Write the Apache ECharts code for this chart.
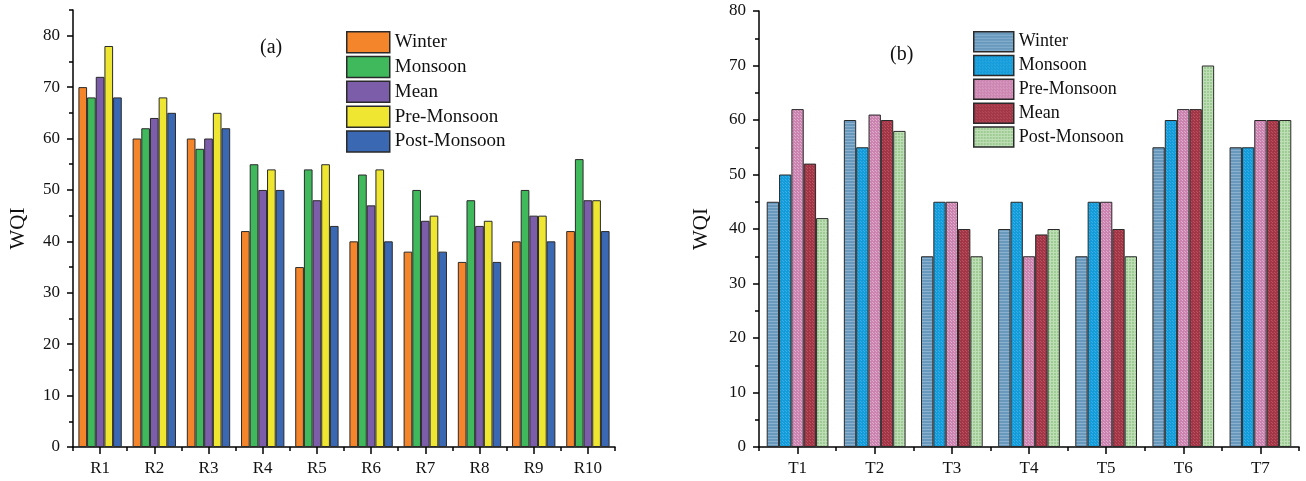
<!DOCTYPE html>
<html>
<head>
<meta charset="utf-8">
<script src="https://cdn.jsdelivr.net/npm/echarts@6/dist/echarts.min.js"></script>
<style>
html,body{margin:0;padding:0;background:#fff;}
#c{width:1306px;height:481px;}
</style>
</head>
<body>
<div id="c"></div>
<script>
// ---- Data: chart (a)
const catsA = ['R1','R2','R3','R4','R5','R6','R7','R8','R9','R10'];
const namesA = ['Winter','Monsoon','Mean','Pre-Monsoon','Post-Monsoon'];
const winterA  = [70,60,60,42,35,40,38,36,40,42];
const monsoonA = [68,62,58,55,54,53,50,48,50,56];
const meanA    = [72,64,60,50,48,47,44,43,45,48];
const preA     = [78,68,65,54,55,54,45,44,45,48];
const postA    = [68,65,62,50,43,40,38,36,40,42];
const yTicksA  = [0,10,20,30,40,50,60,70,80];

// ---- Data: chart (b)
const catsB = ['T1','T2','T3','T4','T5','T6','T7'];
const namesB = ['Winter','Monsoon','Pre-Monsoon','Mean','Post-Monsoon'];
const winterB  = [45,60,35,40,35,55,55];
const monsoonB = [50,55,45,45,45,60,55];
const preB     = [62,61,45,35,45,62,60];
const meanB    = [52,60,40,39,40,62,60];
const postB    = [42,58,35,40,35,70,60];
const yTicksB  = [0,10,20,30,40,50,60,70,80];

const FONT = '"Liberation Serif", "DejaVu Serif", serif';

function pattern(base, light, mode) {
  const c = document.createElement('canvas');
  c.width = 3; c.height = 3;
  const g = c.getContext('2d');
  g.fillStyle = base; g.fillRect(0,0,3,3);
  g.fillStyle = light;
  if (mode === 'h') { g.fillRect(0,0,3,1); }
  else if (mode === 'grid') { g.fillRect(0,0,3,1); g.fillRect(0,0,1,3); }
  else { g.fillRect(0,0,1,1); g.fillRect(2,2,1,1); }
  return { image: c, repeat: 'repeat' };
}

const colorsA = ['#F5852B','#3FB95C','#7C5DA9','#EEE630','#3B68B3'];
const colorsB = [
  pattern('#6898BC','#8AB2D0','h'),
  pattern('#149CDA','#3AB0E6','dot'),
  pattern('#CB84B0','#E2AECD','dot'),
  pattern('#A23646','#B85462','dot'),
  pattern('#9ECB93','#BEDEB5','grid')
];
const dataA = [winterA, monsoonA, meanA, preA, postA];
const dataB = [winterB, monsoonB, preB, meanB, postB];
const SUF = '\u00b7b';

const series = [];
namesA.forEach((n,i) => series.push({
  type:'bar', name:n, xAxisIndex:0, yAxisIndex:0, data:dataA[i],
  barGap:'0%', barCategoryGap:'20%',
  itemStyle:{color:colorsA[i], borderColor:'#2a2a2a', borderWidth:1}
}));
namesB.forEach((n,i) => series.push({
  type:'bar', name:n + SUF, xAxisIndex:2, yAxisIndex:2, data:dataB[i],
  barGap:'0%', barCategoryGap:'20%',
  itemStyle:{color:colorsB[i], borderColor:'#2a2a2a', borderWidth:1}
}));

const axLine = {show:true, lineStyle:{color:'#000', width:1.5}};
const lbl = {color:'#111', fontSize:17, fontFamily:FONT};

function xMain(cats, grid){ return {
  type:'category', gridIndex:grid, data:cats, position:'bottom',
  axisLine:axLine, axisTick:{show:true, alignWithLabel:true, length:7, lineStyle:{color:'#000', width:1.5}},
  axisLabel:Object.assign({margin:13}, lbl), splitLine:{show:false}
};}
function xMinor(cats, grid){ return {
  type:'category', gridIndex:grid, data:cats, position:'bottom', offset:0,
  axisLine:{show:false}, axisTick:{show:true, length:4, lineStyle:{color:'#000', width:1.5}},
  axisLabel:{show:false}, splitLine:{show:false}
};}
function yMain(grid, max, ticks, gap){ return {
  type:'value', gridIndex:grid, min:0, max:max, interval:10, position:'left',
  name:'WQI', nameLocation:'middle', nameGap:gap,
  nameTextStyle:{fontSize:21, fontFamily:FONT, color:'#111'},
  axisLine:axLine,
  axisTick:{show:true, length:6, customValues:ticks, lineStyle:{color:'#000', width:1.5}},
  axisLabel:Object.assign({margin:13, customValues:ticks}, lbl),
  splitLine:{show:false}
};}
function yMinor(grid, max){ return {
  type:'value', gridIndex:grid, min:0, max:max, interval:5, position:'left', offset:0,
  axisLine:{show:false}, axisTick:{show:true, length:4, lineStyle:{color:'#000', width:1.5}},
  axisLabel:{show:false}, splitLine:{show:false}
};}

const chart = echarts.init(document.getElementById('c'), null, {renderer:'canvas'});
chart.setOption({
  animation:false,
  backgroundColor:'#fff',
  textStyle:{fontFamily:FONT},
  grid:[
    {left:73, right:691, top:10, bottom:34, containLabel:false},
    {left:759, right:7, top:11, bottom:34, containLabel:false}
  ],
  xAxis:[xMain(catsA,0), xMinor(catsA,0), xMain(catsB,1), xMinor(catsB,1)],
  yAxis:[yMain(0,85,yTicksA,44), yMinor(0,85), yMain(1,80,yTicksB,47), yMinor(1,80)],
  legend:[
    {data:namesA, orient:'vertical', left:341, top:26, itemWidth:43, itemHeight:21, itemGap:2.3,
     icon:'rect', itemStyle:{borderColor:'#2a2a2a', borderWidth:1.5},
     textStyle:{fontSize:19, fontFamily:FONT, color:'#111'}},
    {data:namesB.map(n=>n+SUF), orient:'vertical', left:968, top:26, itemWidth:40, itemHeight:20, itemGap:2.3,
     icon:'rect', itemStyle:{borderColor:'#2a2a2a', borderWidth:1.5},
     formatter:(n)=>n.replace(SUF,''),
     textStyle:{fontSize:18, fontFamily:FONT, color:'#111'}}
  ],
  graphic:[
    {type:'text', left:260, top:38, style:{text:'(a)', font:'20px ' + FONT, fill:'#111'}},
    {type:'text', left:890, top:45, style:{text:'(b)', font:'20px ' + FONT, fill:'#111'}}
  ],
  series:series
});
</script>
</body>
</html>
